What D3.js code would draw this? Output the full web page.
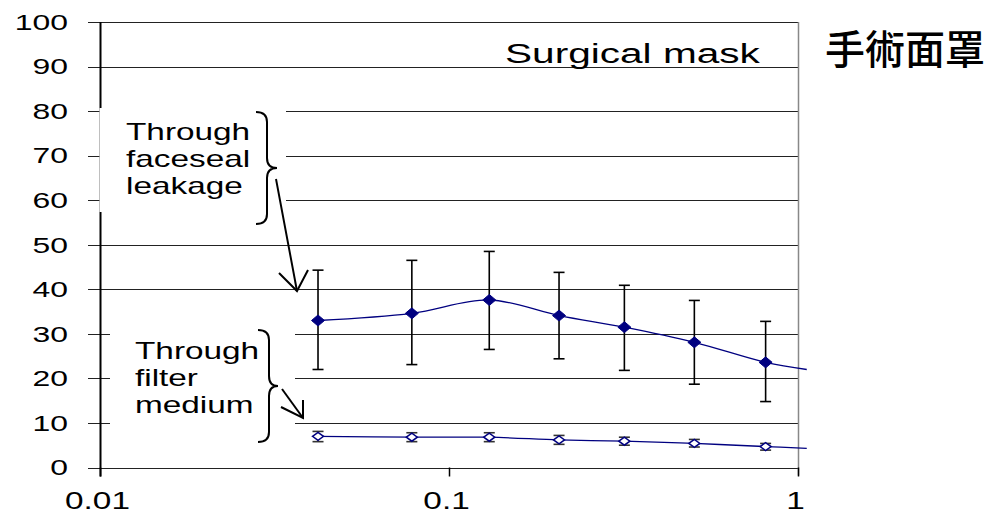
<!DOCTYPE html>
<html>
<head>
<meta charset="utf-8">
<script src="https://cdn.jsdelivr.net/npm/d3@7"></script>
<style>
  html, body { margin: 0; padding: 0; background: #fff; }
  svg { display: block; }
</style>
</head>
<body>
<div id="chart"></div>
<script>
// data
const particleSize = [0.042, 0.078, 0.13, 0.206, 0.317, 0.503, 0.805];
const faceseal = [33.0, 34.6, 37.6, 34.1, 31.5, 28.1, 23.6];
const facesealHi = [44.3, 46.5, 48.5, 43.8, 40.9, 37.5, 32.8];
const facesealLo = [22.0, 23.1, 26.5, 24.4, 21.8, 18.7, 14.8];
const filter = [7.0, 6.8, 6.8, 6.2, 5.9, 5.4, 4.7];
const filterHi = [8.1, 7.8, 7.8, 7.2, 6.8, 6.3, 5.4];
const filterLo = [5.8, 5.8, 5.8, 5.2, 5.0, 4.6, 3.9];
// the trend lines run a little past the last marker
const lineTailX = 1.056;
const facesealTail = 22.0;
const filterTail = 4.3;

const xTicks = [0.01, 0.1, 1];
const xTickLabels = ["0.01", "0.1", "1"];
const yTicks = d3.range(0, 101, 10);

const W = 990, H = 515;
const sx = 1.45; // text in the picture is stretched sideways

const svg = d3.select("#chart").append("svg")
  .attr("width", W).attr("height", H);

const x = d3.scaleLog().domain([0.01, 1]).range([100.5, 798.5]);
const y = d3.scaleLinear().domain([0, 100]).range([467.5, 22]);

// gridlines + y ticks
svg.append("g").selectAll("line").data(yTicks).join("line")
  .attr("x1", 88).attr("x2", x(1))
  .attr("y1", d => Math.round(y(d)) + 0.5).attr("y2", d => Math.round(y(d)) + 0.5)
  .attr("stroke", "#222").attr("stroke-width", 1.2);

// right border of plot
svg.append("line")
  .attr("x1", x(1)).attr("x2", x(1)).attr("y1", y(100)).attr("y2", y(0) + 8)
  .attr("stroke", "#888").attr("stroke-width", 1.5);

// x ticks
svg.append("g").selectAll("line").data(xTicks).join("line")
  .attr("x1", d => x(d)).attr("x2", d => x(d))
  .attr("y1", y(0)).attr("y2", y(0) + 9)
  .attr("stroke", "#000").attr("stroke-width", 1.5);

// y axis line
svg.append("line")
  .attr("x1", x(0.01)).attr("x2", x(0.01)).attr("y1", y(100)).attr("y2", y(0) + 9)
  .attr("stroke", "#000").attr("stroke-width", 2);

// y tick labels
svg.append("g").selectAll("text").data(yTicks).join("text")
  .attr("transform", d => `translate(68,${y(d) + 7.8}) scale(${sx},1)`)
  .attr("text-anchor", "end")
  .style("font-family", "Liberation Sans, Arial, sans-serif")
  .style("font-size", "22px")
  .text(d => d);

// x tick labels
svg.append("g").selectAll("text").data(xTicks).join("text")
  .attr("transform", d => `translate(${x(d) - 3},509) scale(${sx},1)`)
  .attr("text-anchor", "middle")
  .style("font-family", "Liberation Sans, Arial, sans-serif")
  .style("font-size", "23px")
  .text((d, i) => xTickLabels[i]);

// white boxes behind the notes
svg.append("rect").attr("x", 99.5).attr("y", 108).attr("width", 186.5).attr("height", 104).attr("fill", "#fff");
svg.append("rect").attr("x", 110).attr("y", 300).attr("width", 185).attr("height", 145).attr("fill", "#fff");

// series
const line = d3.line().x(d => x(d[0])).y(d => y(d[1])).curve(d3.curveCatmullRom.alpha(0.5));

function series(vals, hi, lo, tail, filled, capColor) {
  const g = svg.append("g");
  const pts = particleSize.map((p, i) => [p, vals[i]]).concat([[lineTailX, tail]]);
  g.append("path").attr("d", line(pts))
    .attr("fill", "none").attr("stroke", "#000080").attr("stroke-width", 1.3);
  const eb = g.append("g").selectAll("g").data(particleSize).join("g")
    .attr("stroke", capColor).attr("stroke-width", 1.6);
  eb.append("line").attr("x1", d => x(d)).attr("x2", d => x(d))
    .attr("y1", (d, i) => y(hi[i])).attr("y2", (d, i) => y(lo[i]));
  eb.append("line").attr("x1", d => x(d) - 5.5).attr("x2", d => x(d) + 5.5)
    .attr("y1", (d, i) => y(hi[i])).attr("y2", (d, i) => y(hi[i]));
  eb.append("line").attr("x1", d => x(d) - 5.5).attr("x2", d => x(d) + 5.5)
    .attr("y1", (d, i) => y(lo[i])).attr("y2", (d, i) => y(lo[i]));
  const hw = filled ? 6.5 : 5.5, hh = filled ? 5.5 : 4;
  g.append("g").selectAll("path").data(particleSize).join("path")
    .attr("d", (d, i) => {
      const cx = x(d), cy = y(vals[i]);
      return `M${cx - hw},${cy}L${cx},${cy - hh}L${cx + hw},${cy}L${cx},${cy + hh}Z`;
    })
    .attr("fill", filled ? "#000080" : "#fff")
    .attr("stroke", "#000080").attr("stroke-width", filled ? 1 : 1.5);
}
series(faceseal, facesealHi, facesealLo, facesealTail, true, "#000");
series(filter, filterHi, filterLo, filterTail, false, "#333");

// titles
svg.append("text")
  .attr("transform", `translate(505,63) scale(${sx},1)`)
  .style("font-family", "Liberation Sans, Arial, sans-serif")
  .style("font-size", "28px")
  .text("Surgical mask");

svg.append("text")
  .attr("x", 825).attr("y", 64)
  .style("font-family", "Noto Sans CJK TC, Noto Sans CJK SC, sans-serif")
  .style("font-size", "40px").style("font-weight", "500")
  .text("手術面罩");

// notes with braces and arrows
function note(lines, tx, ty, brace, arrow, head) {
  const t = svg.append("g").style("font-family", "Liberation Sans, Arial, sans-serif")
    .style("font-size", "23px");
  lines.forEach((s, i) => {
    t.append("text").attr("transform", `translate(${tx},${ty + i * 27}) scale(${sx},1)`).text(s);
  });
  const [x0, top, bottom, tip] = brace;
  const mid = (top + bottom) / 2, xm = x0 + 11, r = 10;
  svg.append("path")
    .attr("d", `M${x0},${top}Q${xm},${top} ${xm},${top + r}L${xm},${mid - r}Q${xm},${mid} ${tip},${mid}` +
      `Q${xm},${mid} ${xm},${mid + r}L${xm},${bottom - r}Q${xm},${bottom} ${x0},${bottom}`)
    .attr("fill", "none").attr("stroke", "#000").attr("stroke-width", 2);
  svg.append("line").attr("x1", arrow[0]).attr("y1", arrow[1]).attr("x2", arrow[2]).attr("y2", arrow[3])
    .attr("stroke", "#000").attr("stroke-width", 2);
  svg.append("path")
    .attr("d", `M${head[0]},${head[1]}L${arrow[2]},${arrow[3]}L${head[2]},${head[3]}`)
    .attr("fill", "none").attr("stroke", "#000").attr("stroke-width", 2);
}
note(["Through", "faceseal", "leakage"], 126, 140, [256, 112, 224, 277], [276, 179, 297, 291], [279, 273, 308, 270]);
note(["Through", "filter", "medium"], 135, 359, [258, 330, 442, 278], [282, 389, 303, 418], [281, 407, 303, 400]);
</script>
</body>
</html>
